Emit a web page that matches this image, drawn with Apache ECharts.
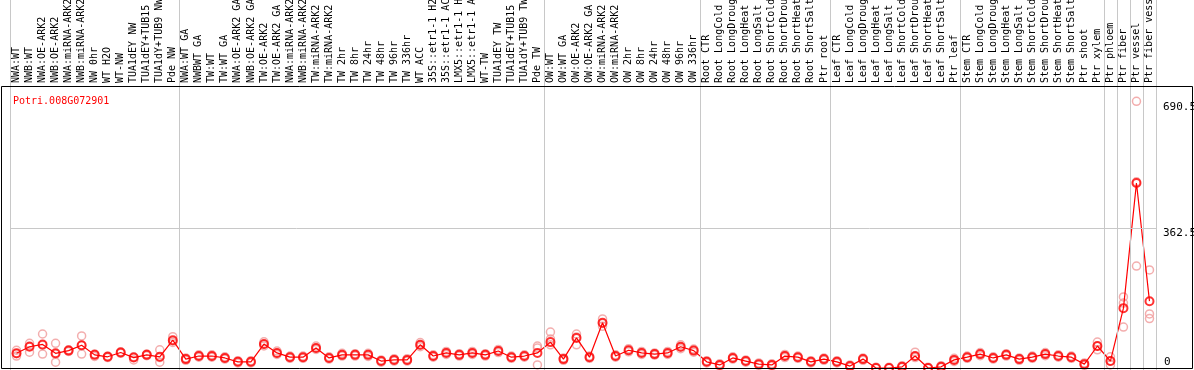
<!DOCTYPE html>
<html><head><meta charset="utf-8">
<script src="https://cdn.jsdelivr.net/npm/echarts@6/dist/echarts.min.js"></script>
<style>html,body{margin:0;padding:0;background:#fff}#c{width:1194px;height:370px}</style>
</head><body><div id="c"></div>
<script>
const geneId = 'Potri.008G072901';
const categories = [
 'NWA:WT','NWB:WT','NWA:OE-ARK2','NWB:OE-ARK2','NWA:miRNA-ARK2','NWB:miRNA-ARK2','NW 0hr','WT H2O','WT-NW','TUA1dEY NW','TUA1dEY+TUB15 NW','TUA1dY+TUB9 NW','Pde NW',
 'NWA:WT GA','NWBWT GA','TW:WT','TW:WT GA','NWA:OE-ARK2 GA','NWB:OE-ARK2 GA','TW:OE-ARK2','TW:OE-ARK2 GA','NWA:miRNA-ARK2 GA','NWB:miRNA-ARK2 GA','TW:miRNA-ARK2','TW:miRNA-ARK2 GA','TW 2hr','TW 8hr','TW 24hr','TW 48hr','TW 96hr','TW 336hr','WT ACC','35S::etr1-1 H2O','35S::etr1-1 ACC','LMX5::etr1-1 H2O','LMX5::etr1-1 ACC','WT-TW','TUA1dEY TW','TUA1dEY+TUB15 TW','TUA1dY+TUB9 TW','Pde TW',
 'OW:WT','OW:WT GA','OW:OE-ARK2','OW:OE-ARK2 GA','OW:miRNA-ARK2','OW:miRNA-ARK2 GA','OW 2hr','OW 8hr','OW 24hr','OW 48hr','OW 96hr','OW 336hr',
 'Root CTR','Root LongCold','Root LongDrought','Root LongHeat','Root LongSalt','Root ShortCold','Root ShortDrought','Root ShortHeat','Root ShortSalt','Ptr root',
 'Leaf CTR','Leaf LongCold','Leaf LongDrought','Leaf LongHeat','Leaf LongSalt','Leaf ShortCold','Leaf ShortDrought','Leaf ShortHeat','Leaf ShortSalt','Ptr leaf',
 'Stem CTR','Stem LongCold','Stem LongDrought','Stem LongHeat','Stem LongSalt','Stem ShortCold','Stem ShortDrought','Stem ShortHeat','Stem ShortSalt','Ptr shoot','Ptr xylem',
 'Ptr phloem','Ptr fiber','Ptr vessel','Ptr fiber vessel'
];
const means = [
 38,55,61,38,45,59,34,29,40,27,34,29,72,
 23,31,31,26,16,16,62,39,28,28,52,26,34,34,34,18,21,21,60,31,39,34,39,34,44,28,31,39,
 67,23,78,28,117,31,46,39,36,39,55,45,
 16,8,26,18,10,8,31,28,16,23,
 16,5,23,0,0,3,31,0,3,21,
 28,36,26,34,23,28,36,31,28,10,57,
 18,155,479,173
];
const rep1 = [
 46,64,88,64,47,83,36,31,42,29,36,47,81,
 26,34,34,29,19,19,68,44,31,31,57,29,38,37,38,21,24,24,66,34,43,37,43,37,48,31,34,57,
 93,26,88,31,127,34,50,43,39,43,60,49,
 19,11,29,21,13,11,35,31,19,26,
 19,8,26,2,2,6,41,2,6,25,
 31,40,29,37,26,31,40,34,31,13,67,
 29,184,690.5,254
];
const rep2 = [
 31,41,36,15,43,36,30,27,38,21,32,15,66,
 20,28,28,23,13,13,57,35,25,25,48,23,31,31,30,15,18,18,55,28,35,31,35,31,40,25,28,8,
 75,20,60,25,108,28,42,35,33,35,50,41,
 13,5,23,15,7,5,27,25,13,20,
 13,2,20,0,0,1,27,0,1,17,
 25,32,23,31,20,25,32,28,25,7,47,
 8,168,264,140
];
const rep3 = [
 37,57,59,36,46,58,35,30,41,28,35,27,70,
 24,32,30,26,17,16,61,38,29,27,51,26,33,35,34,18,22,20,59,31,40,33,39,35,44,28,32,52,
 60,24,80,28,115,31,45,40,36,38,54,46,
 17,8,25,18,10,9,32,28,17,22,
 16,5,24,1,0,3,30,0,3,21,
 28,36,27,34,23,28,36,31,28,11,56,
 18,106,482,128
];
const groupBoundaries = [0,13,41,53,63,73,84,85,86,87,88];
const yTickLabelsTop = [362.5, 690.5];
const yTickLabelsBottom = [0];
const yMax = 725;
const midLine = 362.5;

const chart = echarts.init(document.getElementById('c'), null, {renderer:'canvas'});
const FONT = 'DejaVu Sans Mono';
const repStyle = {color:'transparent', borderColor:'#f09a9a', borderWidth:1.5};
const repSeries = [rep1, rep2, rep3].map((r,k)=>({
  type:'scatter', xAxisIndex:0, yAxisIndex:0, data:r, symbol:'circle', symbolSize:8,
  itemStyle:repStyle, silent:true, z:2
}));
chart.setOption({
  animation:false,
  backgroundColor:'#fff',
  title:{text:geneId, left:8, top:91, textStyle:{color:'#ff0000', fontFamily:FONT, fontSize:10, fontWeight:'normal'}},
  grid:[
    {left:10, right:38, top:88, bottom:2, outerBoundsMode:'none'},
    {left:10, right:38, top:0, bottom:0, outerBoundsMode:'none'}
  ],
  xAxis:[
    {type:'category', gridIndex:0, position:'top', data:categories, boundaryGap:true,
     axisLine:{show:false}, axisTick:{show:false}, splitLine:{show:false},
     axisLabel:{interval:0, rotate:90, margin:5, fontFamily:FONT, fontSize:10, color:'#000', hideOverlap:false}},
    {type:'value', gridIndex:1, min:0, max:categories.length, show:false, splitLine:{show:false}}
  ],
  yAxis:[
    {type:'value', gridIndex:0, min:0, max:yMax, position:'right',
     axisLine:{show:false}, axisTick:{show:false}, splitLine:{show:false},
     axisLabel:{customValues:yTickLabelsTop, align:'left', verticalAlign:'top', margin:7, fontFamily:FONT, fontSize:11, color:'#000'}},
    {type:'value', gridIndex:0, min:0, max:yMax, position:'right',
     axisLine:{show:false}, axisTick:{show:false}, splitLine:{show:false},
     axisLabel:{customValues:yTickLabelsBottom, align:'left', verticalAlign:'bottom', margin:8, fontFamily:FONT, fontSize:11, color:'#000'}},
    {type:'value', gridIndex:1, min:0, max:1, show:false, splitLine:{show:false}}
  ],
  series:[
    {type:'line', xAxisIndex:1, yAxisIndex:2, data:[[0,-1]], symbol:'none', lineStyle:{opacity:0}, silent:true,
     markLine:{silent:true, symbol:'none', label:{show:false}, lineStyle:{color:'#c8c8c8', width:1, type:'solid'},
       data:groupBoundaries.map(b=>({xAxis:b}))}, z:1},
    {type:'line', xAxisIndex:0, yAxisIndex:0, data:means, showSymbol:false, symbol:'none',
     lineStyle:{color:'#ff0000', width:1.2}, silent:true, z:3,
     markLine:{silent:true, symbol:'none', label:{show:false}, lineStyle:{color:'#c8c8c8', width:1, type:'solid'},
       data:[{yAxis:midLine}]}},
    ...repSeries,
    {type:'scatter', xAxisIndex:0, yAxisIndex:0, data:means, symbol:'circle', symbolSize:8,
     itemStyle:{color:'transparent', borderColor:'#ff0000', borderWidth:2}, silent:true, z:4}
  ],
  graphic:[
    {type:'rect', shape:{x:1.5, y:86.5, width:1191, height:282}, style:{fill:null, stroke:'#000', lineWidth:1}, silent:true, z:10}
  ]
});
</script></body></html>
